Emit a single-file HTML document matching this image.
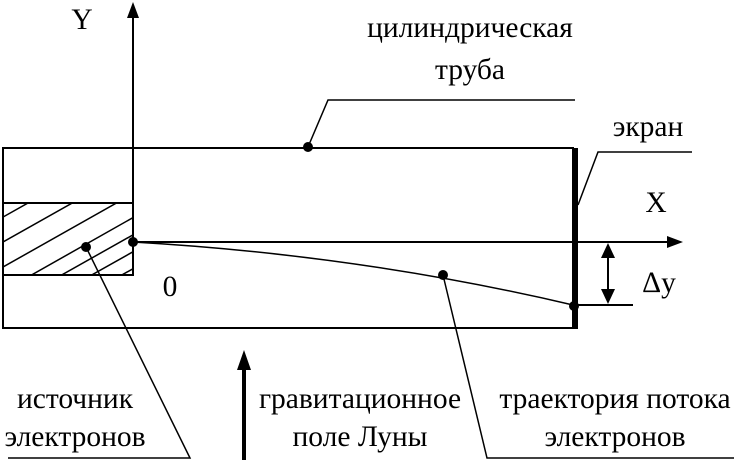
<!DOCTYPE html>
<html><head><meta charset="utf-8"><style>body{margin:0;background:#fff}svg{display:block}text{font-family:"Liberation Serif",serif;font-size:29.5px}</style></head>
<body>
<svg width="734" height="462" viewBox="0 0 734 462" xmlns="http://www.w3.org/2000/svg" fill="#000">
<defs><clipPath id="c"><rect x="3" y="203" width="130" height="72"/></clipPath></defs>
<g stroke="#000" stroke-width="2" fill="none">
<rect x="3" y="148" width="570" height="180"/>
<rect x="3" y="203" width="130" height="72"/>
<g clip-path="url(#c)" stroke-width="1.5">
<line x1="-20" y1="230" x2="60" y2="185"/>
<line x1="-20" y1="255" x2="90" y2="193"/>
<line x1="-20" y1="280" x2="120" y2="201"/>
<line x1="5" y1="290" x2="150" y2="208"/>
<line x1="35" y1="290" x2="170" y2="214"/>
<line x1="65" y1="290" x2="170" y2="231"/>
<line x1="95" y1="290" x2="170" y2="248"/>
</g>
<line x1="133" y1="275" x2="133" y2="14"/>
<line x1="133" y1="242" x2="668" y2="242"/>
<path d="M133 242 Q360 255 573 305" stroke-width="1.5"/>
<line x1="575" y1="305" x2="633" y2="305"/>
<line x1="608" y1="256" x2="608" y2="292"/>
<polyline points="308,147 328,100 575,100" stroke-width="1.5"/>
<polyline points="578,205 598,152 692,152" stroke-width="1.5"/>
<polyline points="86,247 190,458 8,458" stroke-width="1.5"/>
<polyline points="443,275 487,458 734,458" stroke-width="1.5"/>
<line x1="244" y1="460" x2="244" y2="368" stroke-width="4"/>
</g>
<rect x="572" y="148" width="6" height="181"/>
<polygon points="133,2 127,18 139,18"/>
<polygon points="683,242 667,236 667,248"/>
<polygon points="608,243 601,258 615,258"/>
<polygon points="608,304 601,289 615,289"/>
<polygon points="244,350 237,370 251,370"/>
<circle cx="133" cy="242" r="5"/>
<circle cx="86" cy="247" r="5"/>
<circle cx="308" cy="147" r="5"/>
<circle cx="443" cy="275" r="5"/>
<circle cx="574" cy="306" r="5"/>
<text x="82" y="29" text-anchor="middle">Y</text>
<text x="656" y="212" text-anchor="middle">X</text>
<text x="170" y="296" text-anchor="middle">0</text>
<text x="659" y="292" text-anchor="middle">Δy</text>
<text x="470" y="37" text-anchor="middle">цилиндрическая</text>
<text x="470" y="79" text-anchor="middle">труба</text>
<text x="648" y="136" text-anchor="middle">экран</text>
<text x="75" y="408" text-anchor="middle">источник</text>
<text x="75" y="446" text-anchor="middle">электронов</text>
<text x="360" y="408" text-anchor="middle">гравитационное</text>
<text x="360" y="446" text-anchor="middle">поле Луны</text>
<text x="615" y="408" text-anchor="middle">траектория потока</text>
<text x="615" y="446" text-anchor="middle">электронов</text>
</svg>
</body></html>
